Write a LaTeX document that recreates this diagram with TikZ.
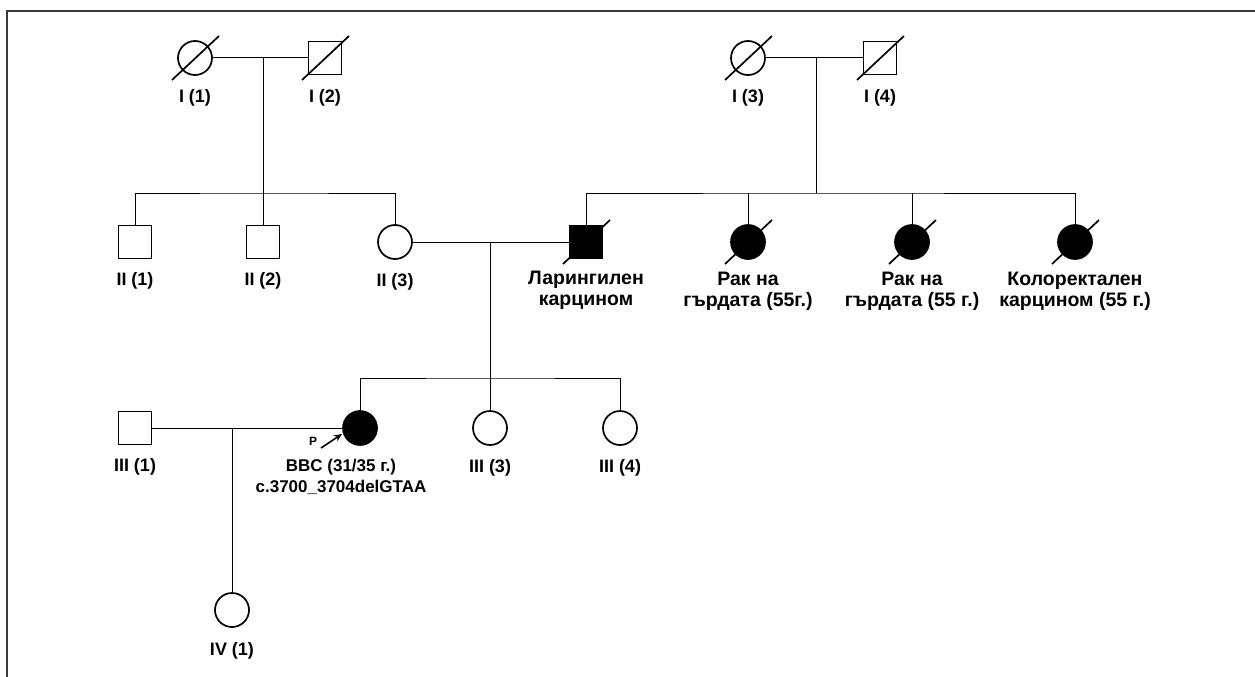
\documentclass[tikz,border=0pt]{standalone}
\usepackage{fontspec}
\setmainfont{Liberation Sans}
\usepackage{xcolor}
\usepackage{tikz}
\usetikzlibrary{positioning,calc,arrows.meta}
\definecolor{edgegray}{HTML}{3A3A3A}

\begin{document}
\begin{tikzpicture}[
    x=1pt, y=-1pt,
    node distance=13pt,
    male/.style={rectangle, draw, line width=1.7pt, minimum size=33pt, inner sep=0pt},
    female/.style={circle, draw, line width=1.7pt, minimum size=34pt, inner sep=0pt},
    affected/.style={fill=black},
    idlabel/.style={font=\bfseries\fontsize{18}{21}\selectfont, align=center,
                    inner sep=0pt},
    diagnosis/.style={idlabel, font=\bfseries\fontsize{19.5}{21}\selectfont},
    probandlabel/.style={idlabel, font=\bfseries\fontsize{17}{21}\selectfont},
    link/.style={line width=1pt},
    dead/.style={line width=1.7pt},
]
\useasboundingbox (0,0) rectangle (1255,677);
\draw[edgegray, line width=1.4pt] (7,677) -- (7,11) -- (1255,11);

% generation I
\node[female] (i1) at (195,58) {};
\node[male] (i2) at (325,58) {};
\node[female] (i3) at (748,58) {};
\node[male] (i4) at (880,58) {};
\node[idlabel, below=13.5pt of i1] {I (1)};
\node[idlabel, below=13.5pt of i2] {I (2)};
\node[idlabel, below=13.5pt of i3] {I (3)};
\node[idlabel, below=13.5pt of i4] {I (4)};

% generation II
\node[male] (ii1) at (135,242) {};
\node[male] (ii2) at (263,242) {};
\node[female] (ii3) at (395,242) {};
\node[male, affected] (ii4) at (586,242) {};
\node[female, affected] (ii5) at (748,242) {};
\node[female, affected] (ii6) at (912,242) {};
\node[female, affected] (ii7) at (1075,242) {};
\node[idlabel, below=of ii1] {II (1)};
\node[idlabel, below=of ii2] {II (2)};
\node[idlabel, below=of ii3] {II (3)};
\node[diagnosis, below=12pt of ii4] {Ларингилен\\карцином};
\node[diagnosis, below=12pt of ii5] {Рак на\\гърдата (55г.)};
\node[diagnosis, below=12pt of ii6] {Рак на\\гърдата (55 г.)};
\node[diagnosis, below=12pt of ii7] {Колоректален\\карцином (55 г.)};

% generation III
\node[male] (iii1) at (135,428) {};
\node[female, affected] (pro) at (360,428) {};
\node[female] (iii3) at (490,428) {};
\node[female] (iii4) at (620,428) {};
\node[idlabel, below=of iii1] {III (1)};
\node[probandlabel, below=of pro, xshift=-19pt] {BBC (31/35 г.)\\c.3700\_3704delGTAA};
\node[idlabel, below=of iii3] {III (3)};
\node[idlabel, below=of iii4] {III (4)};

% generation IV
\node[female] (iv1) at (232,610) {};
\node[idlabel, below=14pt of iv1] {IV (1)};

% couples and sibships
\coordinate (m1) at (263,58);
\coordinate (s1) at (263,193);
\coordinate (m2) at (816,58);
\coordinate (s2) at (816,193);
\coordinate (m3) at (490,242);
\coordinate (s3) at (490,378);
\coordinate (m4) at (232,428);
\draw[link] (i1) -- (i2);
\draw[link] (i3) -- (i4);
\draw[link] (m1) -- (s1);
\draw[link] (ii1.north) |- (s1) -| (ii3.north);
\draw[link] (s1) -- (ii2.north);
\draw[link] (m2) -- (s2);
\draw[link] (ii4.north) |- (s2) -| (ii7.north);
\draw[link] (ii5.north) -- (ii5.north |- s2);
\draw[link] (ii6.north) -- (ii6.north |- s2);
\draw[link] (ii3) -- (ii4);
\draw[link] (m3) -- (s3);
\draw[link] (pro.north) |- (s3) -| (iii4.north);
\draw[link] (s3) -- (iii3.north);
\draw[link] (iii1) -- (pro);
\draw[link] (m4) -- (iv1.north);

% deceased
\foreach \n in {i1,i2,i3,i4,ii4,ii5,ii6,ii7}
    \draw[dead] ($(\n)+(-23,22)$) -- ($(\n)+(24,-22)$);

% proband arrow
\coordinate (ptail) at (321,448);
\coordinate (phead) at (342,434);
\draw[-{Stealth[length=8pt,width=7pt]}, line width=1.6pt] (ptail) -- (phead);
\node[font=\bfseries\fontsize{12}{12}\selectfont, inner sep=0pt] (ptag) at (313,441) {P};
\end{tikzpicture}
\end{document}
